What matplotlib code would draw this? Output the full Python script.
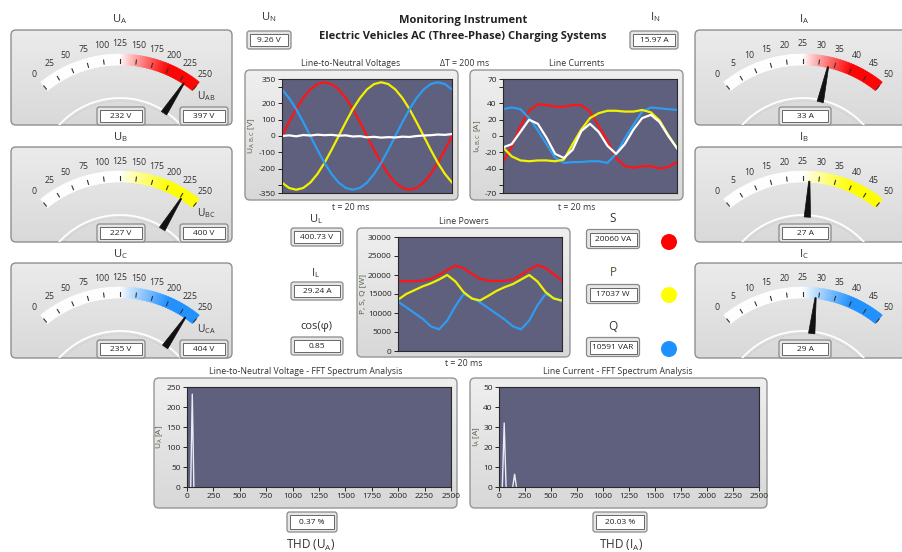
import numpy as np
import matplotlib
matplotlib.use('Agg')
import matplotlib.pyplot as plt
from matplotlib.patches import FancyBboxPatch, Rectangle, Polygon, Circle
import matplotlib.colors as mcolors

plt.rcParams['font.family'] = ['Open Sans', 'DejaVu Sans']
plt.rcParams['mathtext.fontset'] = 'custom'
plt.rcParams['mathtext.rm'] = 'Open Sans'
plt.rcParams['mathtext.it'] = 'Open Sans:italic'
plt.rcParams['mathtext.bf'] = 'Open Sans:bold'

# ---------------- data ----------------
phase_names = ['A', 'B', 'C']
phase_volt = [232, 227, 235]
line_names = ['AB', 'BC', 'CA']
line_volt = [397, 400, 404]
phase_curr = [33, 27, 29]
volt_gauge_max, volt_gauge_step = 250, 25
curr_gauge_max, curr_gauge_step = 50, 5

u_neutral, i_neutral = 9.26, 15.97
u_line, i_line, cos_phi = 400.73, 29.24, 0.85
s_val, p_val, q_val = 20060, 17037, 10591
thd_u, thd_i = 0.37, 20.03

t_v = [0, 0.83, 1.67, 2.5, 3.33, 4.17, 5.0, 5.83, 6.67, 7.5, 8.33, 9.17, 10.0,
       10.83, 11.67, 12.5, 13.33, 14.17, 15.0, 15.83, 16.67, 17.5, 18.33, 19.17, 20.0]
u_a = [0, 85, 165, 233, 286, 319, 330, 319, 286, 233, 165, 85, 0,
       -85, -165, -233, -286, -319, -330, -319, -286, -233, -165, -85, 0]
u_b = [-286, -319, -330, -319, -286, -233, -165, -85, 0, 85, 165, 233, 286,
       319, 330, 319, 286, 233, 165, 85, 0, -85, -165, -233, -286]
u_c = [286, 233, 165, 85, 0, -85, -165, -233, -286, -319, -330, -319, -286,
       -233, -165, -85, 0, 85, 165, 233, 286, 319, 330, 319, 286]
u_n = [0, 4, -2, 6, 3, 8, 5, 7, 2, 4, -3, -1, -8, -5, -10, -7, -9, -4, -6, 0,
       3, 5, 9, 7, 12]

t_i = [0, 1, 2, 3, 4, 5, 6, 7, 8, 9, 10, 11, 12, 13, 14, 15, 16, 17, 18, 19, 20]
i_a = [-32, -13, 12, 31, 39, 38, 36, 36, 38, 38, 30, 12, -6, -27, -37, -39, -37, -37, -40, -38, -32]
i_b = [-14, -25, -30, -31, -30, -30, -31, -29, -10, 8, 22, 28, 31, 31, 30, 30, 32, 29, 19, 1, -15]
i_c = [33, 35, 33, 22, 7, -10, -27, -33, -32, -32, -31, -31, -33, -22, -3, 14, 30, 35, 34, 33, 32]
i_n = [-14, -10, 5, 20, 15, -2, -22, -27, -17, 6, 15, 5, -12, -22, -10, 8, 22, 26, 17, 0, -15]

t_p = [0, 1, 2, 3, 4, 5, 6, 7, 8, 9, 10, 11, 12, 13, 14, 15, 16, 17, 18, 19, 20]
pow_s = [18500, 18300, 18400, 18500, 19000, 20000, 21300, 22500, 21800, 20300, 19000,
         18500, 18400, 18500, 18800, 20000, 21400, 22600, 21800, 20200, 18600]
pow_p = [13500, 15000, 16000, 17000, 17800, 18800, 20000, 18300, 15500, 13800, 13300,
         14500, 15800, 16800, 17600, 18800, 20000, 18300, 15500, 13800, 13300]
pow_q = [13000, 11500, 10000, 8500, 6500, 5700, 8000, 11800, 15000, 14000, 12800,
         11300, 9800, 8300, 6500, 5700, 8000, 12000, 15000, 14000, 13000]

fft_u_freq = [50]
fft_u_amp = [232]
fft_i_freq = [50, 150]
fft_i_amp = [32, 6.4]

# ---------------- style ----------------
W, H = 902, 552
RED, YEL, BLU, WHT = '#ff1515', '#f2f200', '#2e9cf0', '#ffffff'
PLOT_BG = '#5f5f7e'
TXT = '#333333'

fig = plt.figure(figsize=(W / 100, H / 100), dpi=100)
fig.patch.set_facecolor('white')
bg = fig.add_axes([0, 0, 1, 1])
bg.set_xlim(0, W)
bg.set_ylim(H, 0)
bg.set_autoscale_on(False)
bg.axis('off')


def to_fig(x0, y0, x1, y1):
    return [x0 / W, 1 - y1 / H, (x1 - x0) / W, (y1 - y0) / H]


def panel(x0, y0, x1, y1, rad=5, top='#efefef', bot='#d8d8d8', edge='#959595'):
    p = FancyBboxPatch((x0, y0), x1 - x0, y1 - y0,
                       boxstyle=f'round,pad=0,rounding_size={rad}',
                       fc='none', ec=edge, lw=1.0, zorder=2)
    bg.add_patch(p)
    grad = np.linspace(0, 1, 64).reshape(-1, 1)
    cmap = mcolors.LinearSegmentedColormap.from_list('g', [top, bot])
    im = bg.imshow(grad, extent=(x0, x1, y1, y0), cmap=cmap, aspect='auto',
                   zorder=1, interpolation='bilinear')
    im.set_clip_path(p)
    return p


def txt(x, y, s, fs=7, color=TXT, **kw):
    bg.text(x, y, s, fontsize=fs, ha='center', va='center', color=color, **kw)


def display(xc, yc, w, h, s, fs=6):
    bg.add_patch(FancyBboxPatch((xc - w / 2, yc - h / 2), w, h,
                                boxstyle='round,pad=0,rounding_size=2.5',
                                fc='#e6e6e6', ec='#8a8a8a', lw=0.9, zorder=6))
    bg.add_patch(Rectangle((xc - w / 2 + 3, yc - h / 2 + 3), w - 6, h - 6,
                           fc='white', ec='#666666', lw=0.7, zorder=7))
    bg.text(xc, yc + 0.3, s, fontsize=fs, ha='center', va='center', color='#222', zorder=8)


def gauge(cx, cy, vmax, step, value, color, clip):
    Ro, Ri = 126, 115

    def ang(v):
        return np.deg2rad(129 - 78 * v / vmax)

    def pt(r, a):
        return (cx + r * np.cos(a), cy - r * np.sin(a))

    base = np.array(mcolors.to_rgb(color))
    white = np.ones(3)
    N = 100
    for k in range(N):
        v0, v1 = vmax * k / N, vmax * (k + 1) / N
        f = np.clip(((v0 + v1) / 2 / vmax - 0.5) / 0.3, 0, 1) ** 0.9
        col = white * (1 - f) + base * f
        aa = np.linspace(ang(v0), ang(v1), 3)
        pts = [pt(Ro, a) for a in aa] + [pt(Ri, a) for a in aa[::-1]]
        bg.add_patch(Polygon(pts, closed=True, fc=col, ec=col, lw=0.4, zorder=3))
    for v in range(0, vmax + 1, step):
        a = ang(v)
        p1, p2 = pt(Ri + 2, a), pt(Ri + 6, a)
        bg.plot([p1[0], p2[0]], [p1[1], p2[1]], color='#333', lw=0.8, zorder=4)
        lx, ly = pt(136, a)
        bg.text(lx, ly, str(v), fontsize=6.3, ha='center', va='center', color='#333', zorder=4)
    aa = np.deg2rad(np.linspace(5, 175, 120))
    ln, = bg.plot(cx + 82 * np.cos(aa), cy - 82 * np.sin(aa), color='white', lw=1.3, zorder=3)
    ln.set_clip_path(clip)
    ln2, = bg.plot(cx + 79 * np.cos(aa), cy - 79 * np.sin(aa), color='#c0c0c0', lw=0.5,
                   ls=(0, (2, 2)), zorder=3)
    ln2.set_clip_path(clip)
    a = ang(value)
    d = np.array([np.cos(a), -np.sin(a)])
    pp = np.array([np.sin(a), np.cos(a)])
    c = np.array([cx, cy])
    b, tip = c + 80 * d, c + 116 * d
    bg.add_patch(Polygon([b + 3.2 * pp, tip + 0.6 * pp, tip - 0.6 * pp, b - 3.2 * pp],
                         closed=True, fc='#111', ec='#111', lw=0.5, zorder=5))


# ---------------- gauges ----------------
gauge_tops = [30, 147, 263]
title_y = [19, 137, 254]
for k in range(3):
    T = gauge_tops[k]
    # voltage gauges (left)
    txt(120, title_y[k], r'U$_{\mathrm{' + phase_names[k] + '}}$', fs=8)
    p = panel(11, T, 232, T + 95, rad=5, top='#ebebeb', bot='#d9d9d9', edge='#8f8f8f')
    gauge(120, T + 150, volt_gauge_max, volt_gauge_step, phase_volt[k],
          ['#ff0000', '#ffff00', '#1e90ff'][k], p)
    display(121, T + 86, 48, 18, f'{phase_volt[k]} V')
    display(204, T + 86, 48, 18, f'{line_volt[k]} V')
    txt(206, T + 66, r'U$_{\mathrm{' + line_names[k] + '}}$', fs=7.5)
    # current gauges (right)
    txt(804, title_y[k], r'I$_{\mathrm{' + phase_names[k] + '}}$', fs=8)
    p = panel(695, T, 916, T + 95, rad=5, top='#ebebeb', bot='#d9d9d9', edge='#8f8f8f')
    gauge(803, T + 150, curr_gauge_max, curr_gauge_step, phase_curr[k],
          ['#ff0000', '#ffff00', '#1e90ff'][k], p)
    display(805, T + 86, 52, 18, f'{phase_curr[k]} A')

# ---------------- header ----------------
txt(463, 20, 'Monitoring Instrument', fs=8, fontweight='bold', color='#222')
txt(463, 37, 'Electric Vehicles AC (Three-Phase) Charging Systems', fs=8,
    fontweight='bold', color='#222')
txt(269, 17, r'U$_{\mathrm{N}}$', fs=8)
display(269, 40, 44, 18, f'{u_neutral:.2f} V')
txt(655, 17, r'I$_{\mathrm{N}}$', fs=8)
display(654, 40, 48, 18, f'{i_neutral:.2f} A')

# ---------------- centre indicators ----------------
txt(316, 219, r'U$_{\mathrm{L}}$', fs=8)
display(317, 237, 52, 18, f'{u_line:.2f} V')
txt(316, 273, r'I$_{\mathrm{L}}$', fs=8)
display(317, 291, 52, 18, f'{i_line:.2f} A')
txt(316, 327, 'cos(φ)', fs=8)
display(317, 346, 52, 18, f'{cos_phi:.2f}')

txt(613, 218, 'S', fs=8.5)
display(613, 239, 53, 19, f'{s_val} VA')
txt(613, 273, 'P', fs=8.5, color='#5b5030')
display(613, 294, 53, 19, f'{p_val} W')
txt(613, 327, 'Q', fs=8.5)
display(613, 347, 53, 19, f'{q_val} VAR')
for yy, cc in zip([242, 295, 349], ['#ff0000', '#ffff00', '#1e90ff']):
    bg.add_patch(Circle((669, yy), 8, fc=cc, ec='none', zorder=5))


# ---------------- graphs ----------------
def style_ax(ax, ylim, yticks, ylabels, ylabel, xlim, xticks=None):
    ax.set_facecolor(PLOT_BG)
    for s in ax.spines.values():
        s.set_color('#2a2a2a')
        s.set_linewidth(0.8)
    ax.set_ylim(*ylim)
    ax.set_yticks(yticks)
    ax.set_yticklabels(ylabels)
    ax.set_xlim(*xlim)
    ax.tick_params(axis='y', labelsize=6, length=3, width=0.7, pad=1.5, colors='#222')
    if xticks is None:
        ax.set_xticks([])
    else:
        ax.set_xticks(xticks)
        ax.set_xticklabels([str(x) for x in xticks])
        ax.tick_params(axis='x', labelsize=6, length=3, width=0.7, pad=1.5, colors='#222')
    ax.set_ylabel(ylabel, fontsize=6, color='#4f6040', labelpad=1)


# Line-to-neutral voltages
panel(245, 70, 458, 200)
txt(351, 63, 'Line-to-Neutral Voltages', fs=6.3)
txt(465, 63, 'ΔT = 200 ms', fs=6.3)
txt(351, 207, 't = 20 ms', fs=6.3)
axv = fig.add_axes(to_fig(282, 79, 452, 193))
for yy, cc in [(u_a, RED), (u_b, YEL), (u_c, BLU), (u_n, WHT)]:
    axv.plot(t_v, yy, color=cc, lw=1.6)
style_ax(axv, (-350, 350), [-350, -300, -200, -100, 0, 100, 200, 300, 350],
         ['-350', '', '-200', '-100', '0', '100', '200', '', '350'],
         r'U$_{\mathrm{A,B,C}}$ [V]', (0, 20))

# Line currents
panel(470, 70, 683, 200)
txt(577, 63, 'Line Currents', fs=6.3)
txt(577, 207, 't = 20 ms', fs=6.3)
axi = fig.add_axes(to_fig(503, 79, 677, 193))
for yy, cc in [(i_a, RED), (i_c, BLU), (i_b, YEL), (i_n, WHT)]:
    axi.plot(t_i, yy, color=cc, lw=1.6)
style_ax(axi, (-70, 70), [-70, -60, -40, -20, 0, 20, 40, 60, 70],
         ['-70', '', '-40', '-20', '0', '20', '40', '', '70'],
         r'I$_{\mathrm{A,B,C}}$ [A]', (0, 20))

# Line powers
panel(357, 228, 570, 357)
txt(464, 221, 'Line Powers', fs=6.3)
txt(464, 364, 't = 20 ms', fs=6.3)
axp = fig.add_axes(to_fig(398, 237, 562, 351))
for yy, cc in [(pow_q, BLU), (pow_p, YEL), (pow_s, RED)]:
    axp.plot(t_p, yy, color=cc, lw=1.6)
pt_ = list(range(0, 30001, 5000))
style_ax(axp, (0, 30000), pt_, [str(v) for v in pt_], 'P, S, Q [W]', (0, 20))

# FFT voltage
panel(154, 378, 457, 508)
txt(306, 371, 'Line-to-Neutral Voltage - FFT Spectrum Analysis', fs=6.3)
axfu = fig.add_axes(to_fig(187, 387, 451, 487))
for f, a in zip(fft_u_freq, fft_u_amp):
    axfu.plot([f - 15, f, f + 15], [0, a, 0], color='#ececf8', lw=1.0)
yt = list(range(0, 251, 50))
style_ax(axfu, (0, 250), yt, [str(v) for v in yt], r'U$_{\mathrm{A}}$ [A]', (0, 2500),
         xticks=list(range(0, 2501, 250)))
display(312, 522, 50, 20, f'{thd_u:.2f} %')
txt(311, 545, r'THD (U$_{\mathrm{A}}$)', fs=8.5)

# FFT current
panel(470, 378, 767, 508)
txt(618, 371, 'Line Current - FFT Spectrum Analysis', fs=6.3)
axfi = fig.add_axes(to_fig(499, 387, 759, 487))
for f, a in zip(fft_i_freq, fft_i_amp):
    axfi.plot([f - 18, f, f + 18], [0, a, 0], color='#ececf8', lw=1.0)
yt = list(range(0, 51, 10))
style_ax(axfi, (0, 50), yt, [str(v) for v in yt], r'I$_{\mathrm{A}}$ [A]', (0, 2500),
         xticks=list(range(0, 2501, 250)))
display(620, 522, 54, 20, f'{thd_i:.2f} %')
txt(621, 545, r'THD (I$_{\mathrm{A}}$)', fs=8.5)

fig.savefig('out.png', dpi=100)
